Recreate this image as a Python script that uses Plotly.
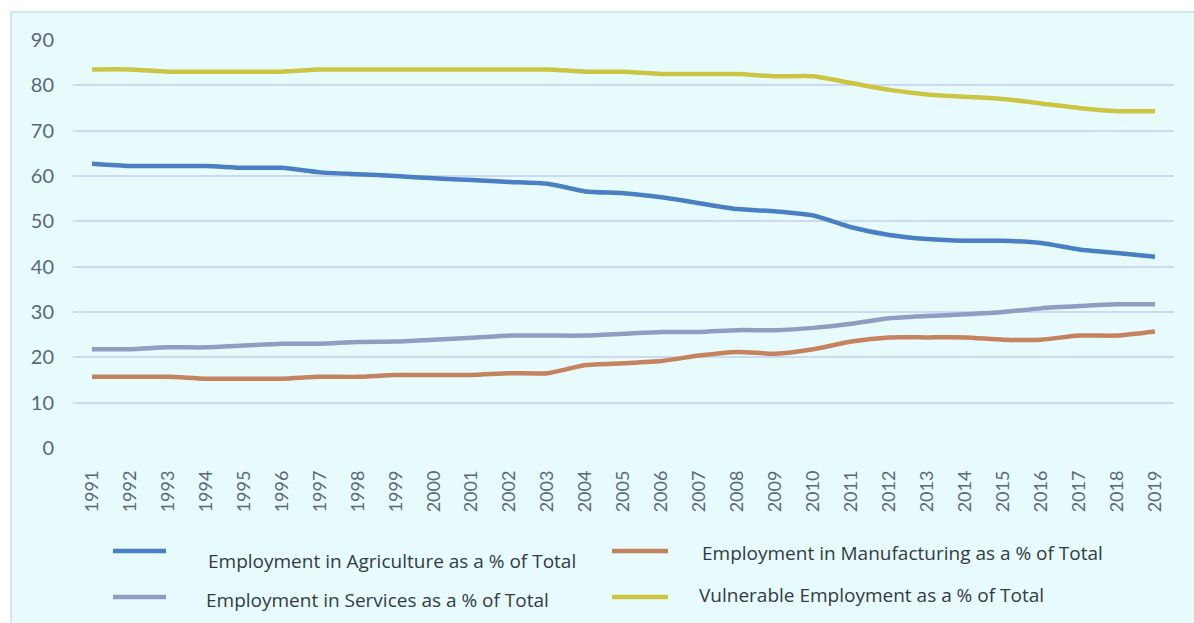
import plotly.graph_objects as go

years = [str(y) for y in range(1991, 2020)]

agriculture = [62.7, 62.2, 62.2, 62.2, 61.8, 61.8, 60.8, 60.4, 60.0, 59.5,
               59.1, 58.7, 58.3, 56.6, 56.2, 55.3, 54.0, 52.7, 52.2, 51.3,
               48.7, 47.0, 46.1, 45.7, 45.7, 45.2, 43.8, 43.0, 42.2]
manufacturing = [15.7, 15.7, 15.7, 15.3, 15.3, 15.3, 15.7, 15.7, 16.1, 16.1,
                 16.1, 16.5, 16.5, 18.3, 18.7, 19.2, 20.4, 21.2, 20.8, 21.8,
                 23.5, 24.4, 24.4, 24.4, 23.9, 23.9, 24.8, 24.8, 25.7]
services = [21.8, 21.8, 22.2, 22.2, 22.6, 23.0, 23.0, 23.4, 23.5, 23.9,
            24.3, 24.8, 24.8, 24.8, 25.2, 25.6, 25.6, 26.0, 26.0, 26.5,
            27.4, 28.6, 29.1, 29.5, 30.0, 30.8, 31.3, 31.7, 31.7]
vulnerable = [83.5, 83.5, 83.0, 83.0, 83.0, 83.0, 83.5, 83.5, 83.5, 83.5,
              83.5, 83.5, 83.5, 83.0, 83.0, 82.5, 82.5, 82.5, 82.0, 82.0,
              80.5, 79.0, 78.0, 77.5, 77.0, 76.0, 75.0, 74.3, 74.3]

names = ["Employment in Agriculture as a % of Total",
         "Employment in Manufacturing as a % of Total",
         "Employment in Services as a % of Total",
         "Vulnerable Employment as a % of Total"]
series = [agriculture, manufacturing, services, vulnerable]
colors = ["#4a7fc4", "#c4835e", "#8f9dc2", "#cbc542"]

y_ticks = [0, 10, 20, 30, 40, 50, 60, 70, 80, 90]

W, H = 1194, 623
PL, PR, PT, PB = 73, 1174, 40, 448

fig = go.Figure()
for name, vals, col in zip(names, series, colors):
    fig.add_trace(go.Scatter(
        x=years, y=vals, mode="lines", name=name,
        line=dict(color=col, width=4.5, shape="spline", smoothing=0.6),
        showlegend=False,
    ))


def px_x(x):
    return (x - PL) / (PR - PL)


def px_y(y):
    return (PB - y) / (PB - PT)


# Background panel
shapes = [
    dict(type="rect", xref="paper", yref="paper",
         x0=px_x(11), x1=px_x(W + 5), y0=px_y(H + 5), y1=px_y(12),
         fillcolor="#e7fbfc", line=dict(color="#c9def0", width=1.5),
         layer="below"),
]

# Manual legend (two columns, two rows): (line x0, line x1, line y, text x, text y)
legend_pos = [
    (113, 166, 551, 206, 561),
    (612, 668, 551, 700, 553),
    (113, 166, 597, 204, 600),
    (612, 668, 597, 697, 595),
]
annotations = []
for name, col, (lx0, lx1, ly, tx, ty) in zip(names, colors, legend_pos):
    shapes.append(dict(type="line", xref="paper", yref="paper",
                       x0=px_x(lx0), x1=px_x(lx1), y0=px_y(ly), y1=px_y(ly),
                       line=dict(color=col, width=4.5)))
    annotations.append(dict(xref="paper", yref="paper", x=px_x(tx), y=px_y(ty),
                            xanchor="left", yanchor="middle", showarrow=False,
                            text=name, font=dict(size=19, color="#333a45",
                                                 family="Open Sans, sans-serif")))

fig.update_layout(
    width=W, height=H,
    margin=dict(l=PL, r=W - PR, t=PT, b=H - PB),
    paper_bgcolor="white",
    plot_bgcolor="rgba(0,0,0,0)",
    shapes=shapes,
    annotations=annotations,
    xaxis=dict(
        type="category", tickangle=-90, showgrid=False, zeroline=False,
        showline=False, ticks="", ticklabelstandoff=18,
        tickfont=dict(size=18, color="#5b6678", family="Lato, Open Sans, sans-serif"),
        range=[-0.5, len(years) - 0.5],
    ),
    yaxis=dict(
        range=[0, 90], tickvals=y_ticks, showgrid=True, gridcolor="#cdd9f2",
        gridwidth=1.5, zeroline=False, showline=False, ticks="",
        ticklabelstandoff=18,
        tickfont=dict(size=20, color="#5b6678", family="Lato, Open Sans, sans-serif"),
    ),
)

fig.write_html("out.html")
